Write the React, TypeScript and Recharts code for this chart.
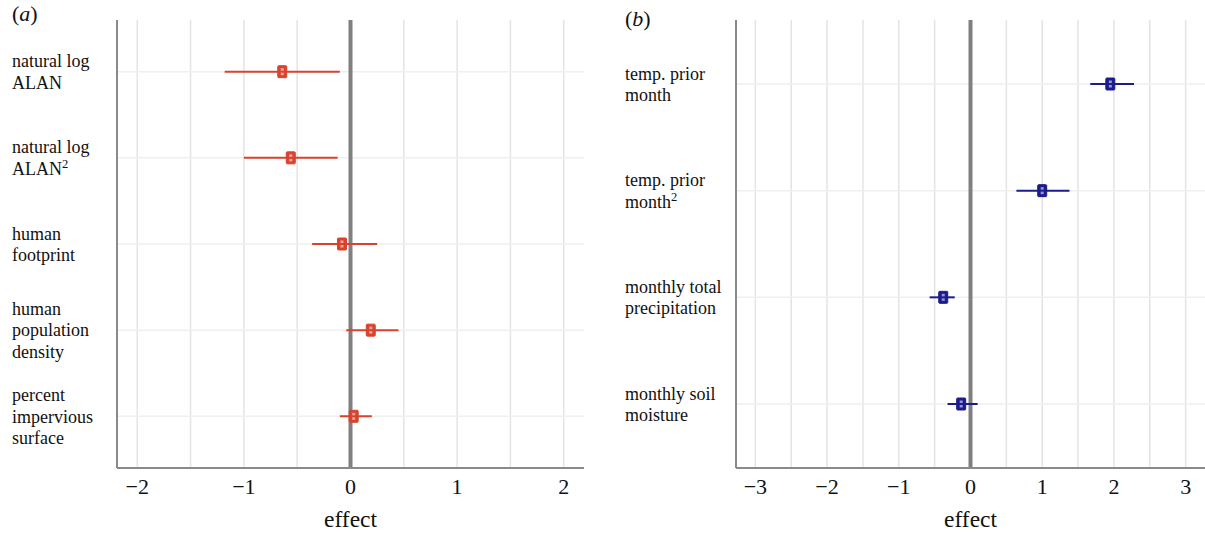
import React from 'react';
import { ScatterChart, Scatter, XAxis, YAxis, CartesianGrid, ReferenceLine, ErrorBar, Label } from 'recharts';

// panel (a): urbanisation covariates
const aLabels = [
  ['natural log', 'ALAN'],
  ['natural log', 'ALAN^2'],
  ['human', 'footprint'],
  ['human', 'population', 'density'],
  ['percent', 'impervious', 'surface'],
];
const aEst = [-0.64, -0.56, -0.08, 0.19, 0.03];
const aLow = [-1.18, -1.0, -0.36, -0.04, -0.1];
const aHigh = [-0.1, -0.12, 0.25, 0.45, 0.2];
const aTicks = [-2, -1, 0, 1, 2];
const aGrid = [-2, -1.5, -1, -0.5, 0, 0.5, 1, 1.5, 2];

// panel (b): climate covariates
const bLabels = [
  ['temp. prior', 'month'],
  ['temp. prior', 'month^2'],
  ['monthly total', 'precipitation'],
  ['monthly soil', 'moisture'],
];
const bEst = [1.95, 1.0, -0.38, -0.13];
const bLow = [1.67, 0.64, -0.57, -0.32];
const bHigh = [2.28, 1.38, -0.22, 0.1];
const bTicks = [-3, -2, -1, 0, 1, 2, 3];
const bGrid = [-3, -2.5, -2, -1.5, -1, -0.5, 0, 0.5, 1, 1.5, 2, 2.5, 3];

const FONT = "'Liberation Serif', 'Times New Roman', 'DejaVu Serif', serif";
const RED = '#d9432e';
const NAVY = '#1c1c8f';

const toRows = (est: number[], low: number[], high: number[]) =>
  est.map((e, i) => ({ row: i + 1, est: e, err: [e - low[i], high[i] - e] }));

const fmt = (v: number) => (v < 0 ? '\u2212' + Math.abs(v) : String(v));

function RowTick({ y, payload, labels, left }: any) {
  const lines: string[] = labels[payload.value - 1] || [];
  const lh = 21.5;
  const start = y - ((lines.length - 1) * lh) / 2;
  return (
    <g>
      {lines.map((ln, i) => {
        const sup = ln.endsWith('^2');
        const txt = sup ? ln.slice(0, -2) : ln;
        return (
          <text key={i} x={left} y={start + i * lh} dy="0.35em" textAnchor="start" style={{ fontFamily: FONT, fontSize: 18, fill: '#111' }}>
            {txt}
            {sup && (
              <tspan dy={-7} style={{ fontSize: 12.5 }}>
                2
              </tspan>
            )}
          </text>
        );
      })}
    </g>
  );
}

function Marker({ cx, cy, fill }: any) {
  if (cx == null || cy == null) return null;
  return (
    <g>
      <rect x={cx - 4.5} y={cy - 6} width={9} height={12} rx={1} fill={fill} stroke={fill} />
      <rect x={cx - 1.5} y={cy - 3.5} width={3} height={2.5} fill="#ffffff" opacity={0.55} />
      <rect x={cx - 1.5} y={cy + 1} width={3} height={2.5} fill="#ffffff" opacity={0.55} />
    </g>
  );
}

type PanelProps = {
  labels: string[][];
  est: number[];
  low: number[];
  high: number[];
  ticks: number[];
  grid: number[];
  domain: [number, number];
  color: string;
  width: number;
  axisW: number;
  right: number;
  labelLeft: number;
};

function Panel(p: PanelProps) {
  const data = toRows(p.est, p.low, p.high);
  const n = p.labels.length;
  const rows = data.map((d) => d.row);
  return (
    <ScatterChart width={p.width} height={533} margin={{ top: 20, right: p.right, left: 0, bottom: 0 }} style={{ fontFamily: FONT }}>
      <CartesianGrid horizontal={false} verticalValues={p.grid} stroke="#e4e4e4" strokeWidth={1.5} />
      <CartesianGrid vertical={false} horizontalValues={rows} stroke="#efefef" strokeWidth={1.5} />
      <XAxis
        type="number"
        dataKey="est"
        domain={p.domain}
        ticks={p.ticks}
        allowDataOverflow
        tickFormatter={fmt}
        tickLine={false}
        tickSize={6}
        tickMargin={4}
        height={65}
        axisLine={{ stroke: '#8a8a8a', strokeWidth: 2 }}
        tick={{ fill: '#111', fontSize: 22, style: { fontFamily: FONT } }}
      >
        <Label value="effect" position="insideBottom" offset={6} style={{ fontFamily: FONT, fontSize: 23.5, fill: '#111' }} />
      </XAxis>
      <YAxis
        type="number"
        dataKey="row"
        domain={[0.4, n + 0.6]}
        ticks={rows}
        reversed
        width={p.axisW}
        tickLine={false}
        axisLine={{ stroke: '#8a8a8a', strokeWidth: 2 }}
        tick={(t: any) => <RowTick {...t} labels={p.labels} left={p.labelLeft} />}
      />
      <ReferenceLine x={0} stroke="#808080" strokeWidth={4} />
      <Scatter data={data} fill={p.color} isAnimationActive={false} shape={(s: any) => <Marker {...s} fill={p.color} />}>
        <ErrorBar dataKey="err" direction="x" width={0} stroke={p.color} strokeWidth={2} />
      </Scatter>
    </ScatterChart>
  );
}

export default function App() {
  const tag = { position: 'absolute' as const, top: 3, fontFamily: FONT, fontSize: 22, lineHeight: 1, color: '#111' };
  return (
    <div style={{ position: 'absolute', left: 0, top: 0, width: 1205, height: 533, background: '#fff', overflow: 'hidden', fontFamily: FONT }}>
      <div style={{ position: 'absolute', left: 0, top: 0 }}>
        <Panel labels={aLabels} est={aEst} low={aLow} high={aHigh} ticks={aTicks} grid={aGrid} domain={[-2.19, 2.19]} color={RED} width={600} axisW={117} right={16} labelLeft={12} />
      </div>
      <div style={{ position: 'absolute', left: 610, top: 0 }}>
        <Panel labels={bLabels} est={bEst} low={bLow} high={bHigh} ticks={bTicks} grid={bGrid} domain={[-3.27, 3.27]} color={NAVY} width={595} axisW={126} right={0} labelLeft={15} />
      </div>
      <div style={{ ...tag, left: 12 }}>
        (<i>a</i>)
      </div>
      <div style={{ ...tag, left: 625, top: 8 }}>
        (<i>b</i>)
      </div>
    </div>
  );
}
